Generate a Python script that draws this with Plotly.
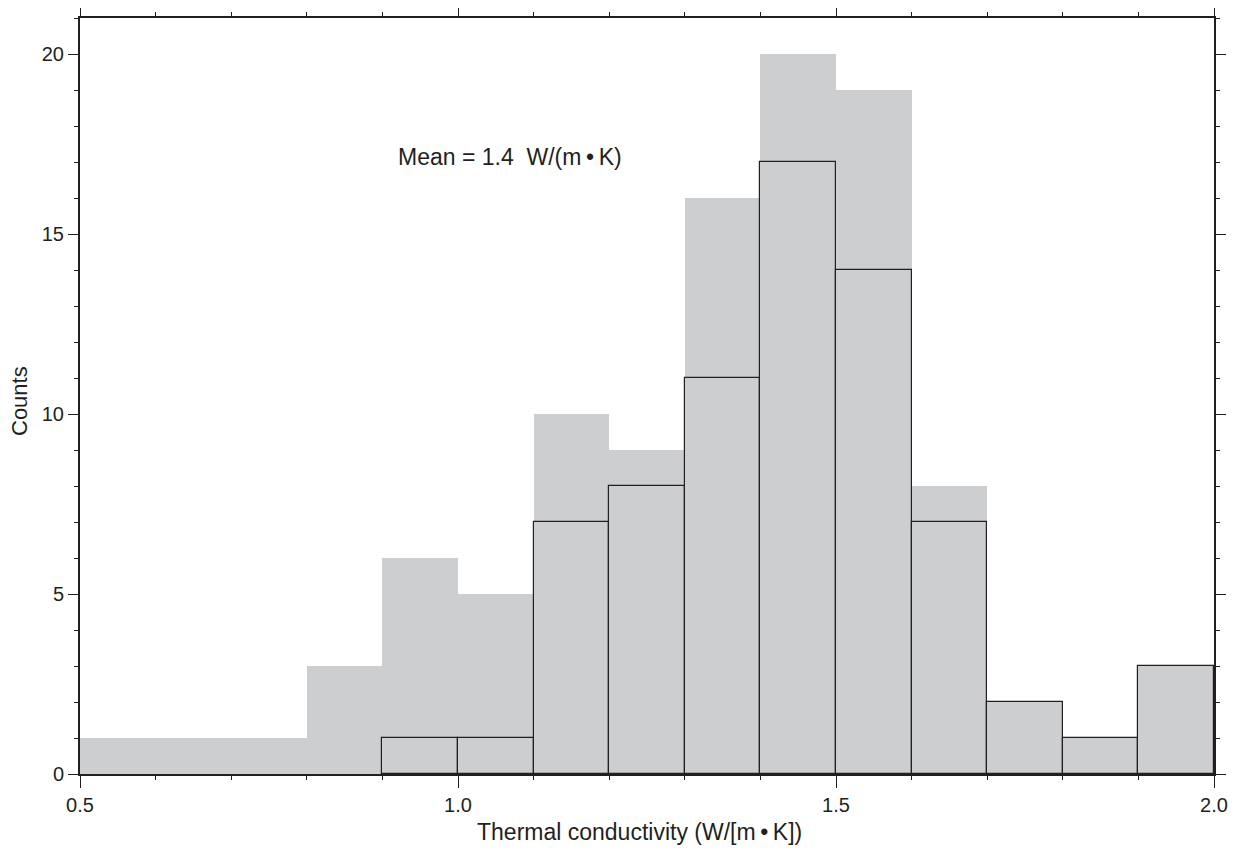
import plotly.graph_objects as go

bin_left = [0.5, 0.6, 0.7, 0.8, 0.9, 1.0, 1.1, 1.2, 1.3, 1.4, 1.5, 1.6, 1.7, 1.8, 1.9]
bin_width = 0.1
total_counts = [1, 1, 1, 3, 6, 5, 10, 9, 16, 20, 19, 8, 2, 1, 3]
subset_counts = [0, 0, 0, 0, 1, 1, 7, 8, 11, 17, 14, 7, 2, 1, 3]

centers = [b + bin_width / 2 for b in bin_left]
ink = "#231f20"
font_family = "Liberation Sans, Arial, sans-serif"

fig = go.Figure()
fig.add_trace(go.Bar(
    x=centers, y=total_counts, width=bin_width,
    marker=dict(color="#cdced0", line=dict(width=0)),
    showlegend=False, hoverinfo="skip",
))
sub_x = [c for c, v in zip(centers, subset_counts) if v > 0]
sub_y = [v for v in subset_counts if v > 0]
fig.add_trace(go.Bar(
    x=sub_x, y=sub_y, width=bin_width,
    marker=dict(color="rgba(0,0,0,0)", line=dict(color=ink, width=1.2)),
    showlegend=False, hoverinfo="skip",
))

fig.add_annotation(
    x=1.069, y=17.15, xref="x", yref="y",
    text="Mean = 1.4\u00a0\u00a0W/(m\u2009\u2022\u2009K)",
    showarrow=False, font=dict(size=23, color=ink, family=font_family),
)
fig.add_annotation(
    x=0.4938, y=-0.0767, xref="paper", yref="paper", yanchor="middle",
    text="Thermal conductivity (W/[m\u2009\u2022\u2009K])",
    showarrow=False, font=dict(size=23, color=ink, family=font_family),
)
fig.add_annotation(
    x=-0.0529, y=0.4934, xref="paper", yref="paper", xanchor="center", yanchor="middle",
    text="Counts", textangle=-90,
    showarrow=False, font=dict(size=22, color=ink, family=font_family),
)

fig.update_layout(
    width=1241, height=852,
    margin=dict(l=72, r=35, t=10, b=86),
    paper_bgcolor="white", plot_bgcolor="white",
    barmode="overlay", bargap=0,
    font=dict(family=font_family, color=ink, size=20),
)
fig.update_xaxes(
    range=[0.5, 2.0], tickvals=[0.5, 1.0, 1.5, 2.0], ticktext=["0.5", "1.0", "1.5", "2.0"],
    ticks="outside", ticklen=12, tickwidth=1, tickcolor=ink,
    minor=dict(dtick=0.1, tick0=0.5, ticks="outside", ticklen=4, tickwidth=1, tickcolor=ink),
    showline=True, linewidth=2, linecolor=ink, mirror="ticks",
    showgrid=False, zeroline=False, automargin=False,
    tickfont=dict(size=20),
)
fig.update_yaxes(
    range=[0, 21], tickvals=[0, 5, 10, 15, 20],
    ticks="outside", ticklen=10, tickwidth=1, tickcolor=ink,
    minor=dict(dtick=1, tick0=0, ticks="outside", ticklen=4, tickwidth=1, tickcolor=ink),
    showline=True, linewidth=2, linecolor=ink, mirror="ticks",
    showgrid=False, zeroline=False, automargin=False,
    tickfont=dict(size=20),
)

fig.write_html("out.html")
